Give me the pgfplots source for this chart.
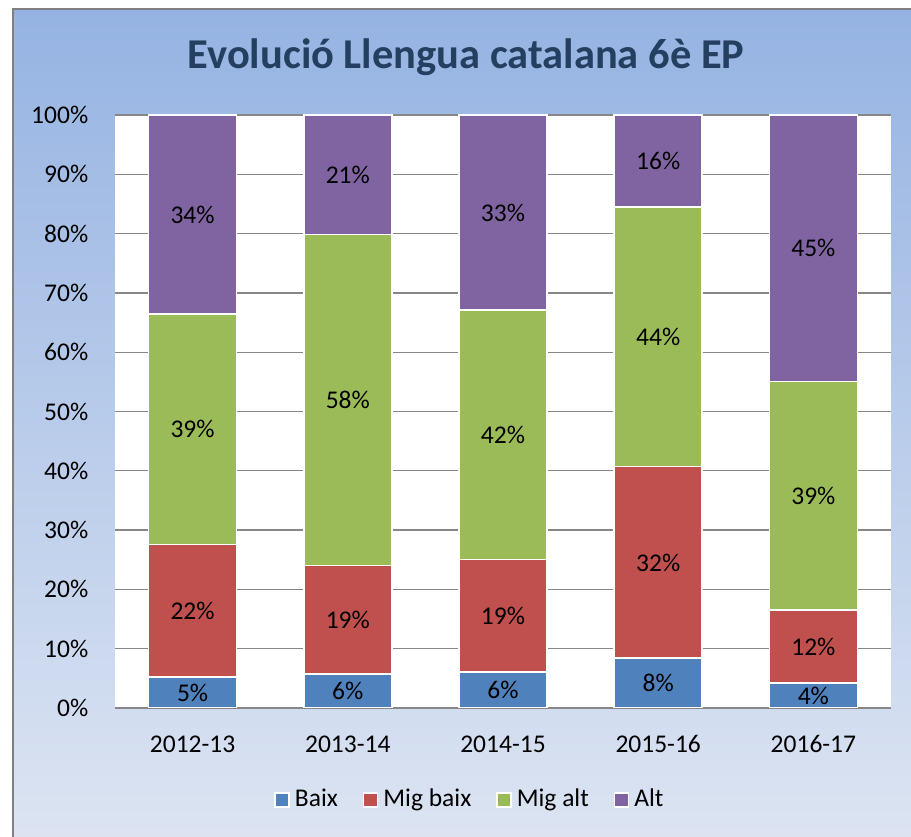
\documentclass[border=0pt]{standalone}
\usepackage{pgfplots}
\pgfplotsset{compat=1.18}
\usepackage{pgfplotstable}
\usepackage{fontspec}
\setmainfont{Carlito}
\definecolor{cBaix}{HTML}{4F81BD}
\definecolor{cMigBaix}{HTML}{C0504D}
\definecolor{cMigAlt}{HTML}{9BBB59}
\definecolor{cAlt}{HTML}{8064A2}
\definecolor{titlecol}{HTML}{243F60}
\definecolor{bgtop}{HTML}{95B3E2}
\definecolor{bgbot}{HTML}{DCE4F2}
\definecolor{gridcol}{HTML}{878787}

\pgfplotstableread{
x y lab
0 5.2 5
1 5.77 6
2 6.05 6
3 8.4 8
4 4.2 4
}\baix
\pgfplotstableread{
x y lab
0 22.4 22
1 18.27 19
2 18.95 19
3 32.3 32
4 12.3 12
}\migbaix
\pgfplotstableread{
x y lab
0 38.8 39
1 55.77 58
2 42.1 42
3 43.8 44
4 38.6 39
}\migalt
\pgfplotstableread{
x y lab
0 33.6 34
1 20.19 21
2 32.9 33
3 15.5 16
4 44.9 45
}\alt

\begin{document}
\fontsize{10.2pt}{12pt}\selectfont
\begin{tikzpicture}
\path[use as bounding box] (0,0) rectangle (364.4pt,334.8pt);
\shade[top color=bgtop, bottom color=bgbot] (5.2pt,0) rectangle (364.4pt,331.2pt);
\draw[gray, line width=0.8pt] (5.2pt,0) -- (5.2pt,331.2pt) -- (364.4pt,331.2pt);
\begin{axis}[
  at={(46pt,51.6pt)}, anchor=south west,
  scale only axis, width=310.4pt, height=237.2pt,
  axis background/.style={fill=white},
  ybar stacked, bar width=35.2pt,
  xmin=-0.5, xmax=4.5, ymin=0, ymax=100,
  xtick={0,1,2,3,4},
  xticklabels={2012-13,2013-14,2014-15,2015-16,2016-17},
  ytick={0,10,20,30,40,50,60,70,80,90,100},
  yticklabels={0\%,10\%,20\%,30\%,40\%,50\%,60\%,70\%,80\%,90\%,100\%},
  major tick length=0pt,
  axis x line*=bottom, axis y line*=left,
  x axis line style={gridcol, line width=0.8pt},
  y axis line style={draw=none},
  ymajorgrids, grid style={gridcol, line width=0.5pt},
  xticklabel style={yshift=-7.5pt},
  yticklabel style={xshift=-7.1pt},
  point meta=explicit symbolic,
  nodes near coords={\pgfplotspointmeta\%},
  every node near coord/.append style={anchor=center, black},
  title={Evolució Llengua catalana 6è EP},
  title style={at={(0.4523,1.0776)}, anchor=base, yshift=-6pt, text=titlecol,
    font=\fontsize{17pt}{20pt}\selectfont\bfseries},
  legend columns=-1,
  legend style={at={(0.4594,-0.1551)}, anchor=center, draw=none, fill=none,
    /tikz/every even column/.append style={column sep=8pt}},
  legend image code/.code={\draw[#1] (0pt,-2.8pt) rectangle (5.6pt,2.8pt);},
]
\addplot[fill=cBaix, draw=white, line width=0.6pt] table[x=x, y=y, meta=lab] {\baix};
\addplot[fill=cMigBaix, draw=white, line width=0.6pt] table[x=x, y=y, meta=lab] {\migbaix};
\addplot[fill=cMigAlt, draw=white, line width=0.6pt] table[x=x, y=y, meta=lab] {\migalt};
\addplot[fill=cAlt, draw=white, line width=0.6pt] table[x=x, y=y, meta=lab] {\alt};
\legend{Baix, Mig baix, Mig alt, Alt}
\end{axis}
\end{tikzpicture}
\end{document}
